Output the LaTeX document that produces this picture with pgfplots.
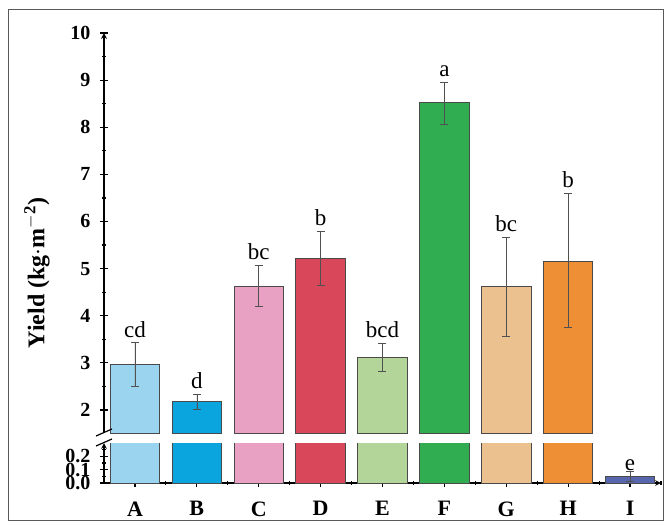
\documentclass[border=0pt]{standalone}
\usepackage{pgfplots}
\pgfplotsset{compat=1.18}
\usepackage{fontspec}
\setmainfont{Liberation Serif}

\definecolor{cA}{HTML}{9BD4EF}
\definecolor{cB}{HTML}{0AA5DE}
\definecolor{cC}{HTML}{E8A1C2}
\definecolor{cD}{HTML}{D9475A}
\definecolor{cE}{HTML}{B4D59A}
\definecolor{cF}{HTML}{30AD50}
\definecolor{cG}{HTML}{ECC190}
\definecolor{cH}{HTML}{EE8F36}
\definecolor{cI}{HTML}{5866AE}
\definecolor{barline}{HTML}{4A4A4A}
\definecolor{errc}{HTML}{505050}

% letters sit on top of the error bars
\pgfplotstableread{
x top lab
0 3.43 cd
1 2.34 d
2 5.07 bc
3 5.80 b
4 3.42 bcd
5 8.96 a
6 5.67 bc
7 6.60 b
}\letters

\pgfplotsset{
  bars/.style={ybar, bar width=0.8, bar shift=0pt, draw=barline, line width=0.9pt},
  errs/.style={error bars/y dir=both, error bars/y explicit,
    error bars/error bar style={line width=0.6pt, color=errc},
    error bars/error mark options={rotate=90, line width=0.6pt, color=errc, mark size=4pt}},
  lettr/.style={nodes near coords, point meta=explicit symbolic,
    nodes near coords style={anchor=south, inner sep=0pt, yshift=5pt,
      font=\fontsize{23}{23}\selectfont, black}},
  common/.style={
    scale only axis, width=557pt,
    xmin=-0.5, xmax=8.5,
    axis line style={-, line width=1.6pt},
    tick align=outside,
    major tick length=8pt, minor tick length=4pt,
    every tick/.style={line width=1.2pt, black},
    /pgf/number format/assume math mode=true,
    yticklabel style={font=\fontsize{20}{20}\selectfont\bfseries, xshift=-6pt},
    xticklabel style={font=\fontsize{22}{22}\selectfont\bfseries, yshift=-11pt},
  },
}

\begin{document}
\begin{tikzpicture}[x=1pt,y=1pt]
\path[use as bounding box] (0,0) rectangle (665,523);
\draw[line width=1pt, color=black!65] (8,3) rectangle (663,513);

% upper part of the broken axis
\begin{axis}[common,
  at={(104pt,89.5pt)}, anchor=south west, height=400.5pt,
  ymin=1.5, ymax=10,
  hide x axis, axis y line=left,
  ytick={2,...,10}, minor y tick num=1,
]
\addplot[bars, fill=cA, errs] coordinates {(0,2.97) += (0,0.46) -= (0,0.46)};
\addplot[bars, fill=cB, errs] coordinates {(1,2.17) += (0,0.17) -= (0,0.16)};
\addplot[bars, fill=cC, errs] coordinates {(2,4.63) += (0,0.44) -= (0,0.44)};
\addplot[bars, fill=cD, errs] coordinates {(3,5.22) += (0,0.58) -= (0,0.57)};
\addplot[bars, fill=cE, errs] coordinates {(4,3.12) += (0,0.30) -= (0,0.31)};
\addplot[bars, fill=cF, errs] coordinates {(5,8.52) += (0,0.44) -= (0,0.45)};
\addplot[bars, fill=cG, errs] coordinates {(6,4.62) += (0,1.05) -= (0,1.05)};
\addplot[bars, fill=cH, errs] coordinates {(7,5.16) += (0,1.44) -= (0,1.41)};
\addplot[only marks, mark=none, lettr] table[x=x, y=top, meta=lab] {\letters};
\end{axis}

% lower part of the broken axis
\begin{axis}[common,
  at={(104pt,40pt)}, anchor=south west, height=40pt,
  ymin=0, ymax=0.3,
  axis x line=bottom, axis y line=left,
  ytick={0,0.1,0.2}, minor ytick={0.05,0.15,0.25},
  yticklabel style={/pgf/number format/.cd, fixed, fixed zerofill, precision=1},
  xtick={0,...,8}, xticklabels={A,B,C,D,E,F,G,H,I},
  minor xtick={0.5,1.5,...,8.5},
]
\addplot[bars, fill=cA] coordinates {(0,2.97)};
\addplot[bars, fill=cB] coordinates {(1,2.17)};
\addplot[bars, fill=cC] coordinates {(2,4.63)};
\addplot[bars, fill=cD] coordinates {(3,5.22)};
\addplot[bars, fill=cE] coordinates {(4,3.12)};
\addplot[bars, fill=cF] coordinates {(5,8.52)};
\addplot[bars, fill=cG] coordinates {(6,4.62)};
\addplot[bars, fill=cH] coordinates {(7,5.16)};
\addplot[bars, fill=cI, errs, lettr]
  coordinates {(8,0.05) += (0,0.04) -= (0,0.04) [e]};
\end{axis}

% break marks on the y axis
\draw[line width=1.2pt] (96,87) -- (112,94);
\draw[line width=1.2pt] (96,77) -- (112,84);

\node[rotate=90, font=\fontsize{24}{24}\selectfont\bfseries] at (37,250)
  {Yield (kg$\cdot$m$^{\mathbf{-2}}$)};
\end{tikzpicture}
\end{document}
